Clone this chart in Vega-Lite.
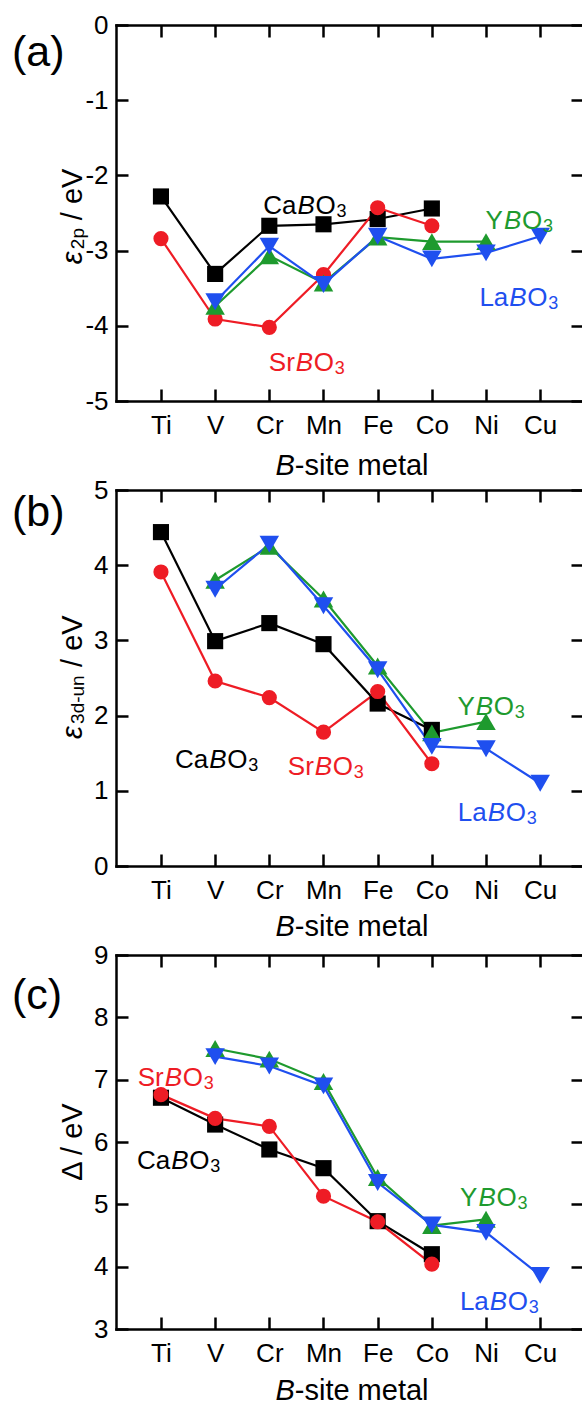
{
  "$schema": "https://vega.github.io/schema/vega-lite/v6.json",
  "padding": {"left": 11, "top": 12, "right": 0, "bottom": 0},
  "background": "white",
  "bounds": "flush",
  "spacing": 89,
  "datasets": {
    "pts": [
      {"panel":"a","series":"CaBO3","metal":"Ti","idx":1,"v":-2.28},
      {"panel":"a","series":"CaBO3","metal":"V","idx":2,"v":-3.31},
      {"panel":"a","series":"CaBO3","metal":"Cr","idx":3,"v":-2.67},
      {"panel":"a","series":"CaBO3","metal":"Mn","idx":4,"v":-2.65},
      {"panel":"a","series":"CaBO3","metal":"Fe","idx":5,"v":-2.58},
      {"panel":"a","series":"CaBO3","metal":"Co","idx":6,"v":-2.44},
      {"panel":"a","series":"SrBO3","metal":"Ti","idx":1,"v":-2.84},
      {"panel":"a","series":"SrBO3","metal":"V","idx":2,"v":-3.91},
      {"panel":"a","series":"SrBO3","metal":"Cr","idx":3,"v":-4.02},
      {"panel":"a","series":"SrBO3","metal":"Mn","idx":4,"v":-3.32},
      {"panel":"a","series":"SrBO3","metal":"Fe","idx":5,"v":-2.43},
      {"panel":"a","series":"SrBO3","metal":"Co","idx":6,"v":-2.67},
      {"panel":"a","series":"YBO3","metal":"V","idx":2,"v":-3.74},
      {"panel":"a","series":"YBO3","metal":"Cr","idx":3,"v":-3.07},
      {"panel":"a","series":"YBO3","metal":"Mn","idx":4,"v":-3.43},
      {"panel":"a","series":"YBO3","metal":"Fe","idx":5,"v":-2.82},
      {"panel":"a","series":"YBO3","metal":"Co","idx":6,"v":-2.88},
      {"panel":"a","series":"YBO3","metal":"Ni","idx":7,"v":-2.88},
      {"panel":"a","series":"LaBO3","metal":"V","idx":2,"v":-3.68},
      {"panel":"a","series":"LaBO3","metal":"Cr","idx":3,"v":-2.94},
      {"panel":"a","series":"LaBO3","metal":"Mn","idx":4,"v":-3.45},
      {"panel":"a","series":"LaBO3","metal":"Fe","idx":5,"v":-2.81},
      {"panel":"a","series":"LaBO3","metal":"Co","idx":6,"v":-3.11},
      {"panel":"a","series":"LaBO3","metal":"Ni","idx":7,"v":-3.03},
      {"panel":"a","series":"LaBO3","metal":"Cu","idx":8,"v":-2.81},
      {"panel":"b","series":"CaBO3","metal":"Ti","idx":1,"v":4.44},
      {"panel":"b","series":"CaBO3","metal":"V","idx":2,"v":2.99},
      {"panel":"b","series":"CaBO3","metal":"Cr","idx":3,"v":3.23},
      {"panel":"b","series":"CaBO3","metal":"Mn","idx":4,"v":2.95},
      {"panel":"b","series":"CaBO3","metal":"Fe","idx":5,"v":2.16},
      {"panel":"b","series":"CaBO3","metal":"Co","idx":6,"v":1.81},
      {"panel":"b","series":"SrBO3","metal":"Ti","idx":1,"v":3.91},
      {"panel":"b","series":"SrBO3","metal":"V","idx":2,"v":2.46},
      {"panel":"b","series":"SrBO3","metal":"Cr","idx":3,"v":2.24},
      {"panel":"b","series":"SrBO3","metal":"Mn","idx":4,"v":1.78},
      {"panel":"b","series":"SrBO3","metal":"Fe","idx":5,"v":2.32},
      {"panel":"b","series":"SrBO3","metal":"Co","idx":6,"v":1.36},
      {"panel":"b","series":"YBO3","metal":"V","idx":2,"v":3.80},
      {"panel":"b","series":"YBO3","metal":"Cr","idx":3,"v":4.25},
      {"panel":"b","series":"YBO3","metal":"Mn","idx":4,"v":3.55},
      {"panel":"b","series":"YBO3","metal":"Fe","idx":5,"v":2.66},
      {"panel":"b","series":"YBO3","metal":"Co","idx":6,"v":1.77},
      {"panel":"b","series":"YBO3","metal":"Ni","idx":7,"v":1.92},
      {"panel":"b","series":"LaBO3","metal":"V","idx":2,"v":3.68},
      {"panel":"b","series":"LaBO3","metal":"Cr","idx":3,"v":4.28},
      {"panel":"b","series":"LaBO3","metal":"Mn","idx":4,"v":3.46},
      {"panel":"b","series":"LaBO3","metal":"Fe","idx":5,"v":2.61},
      {"panel":"b","series":"LaBO3","metal":"Co","idx":6,"v":1.59},
      {"panel":"b","series":"LaBO3","metal":"Ni","idx":7,"v":1.56},
      {"panel":"b","series":"LaBO3","metal":"Cu","idx":8,"v":1.10},
      {"panel":"c","series":"CaBO3","metal":"Ti","idx":1,"v":6.71},
      {"panel":"c","series":"CaBO3","metal":"V","idx":2,"v":6.28},
      {"panel":"c","series":"CaBO3","metal":"Cr","idx":3,"v":5.88},
      {"panel":"c","series":"CaBO3","metal":"Mn","idx":4,"v":5.58},
      {"panel":"c","series":"CaBO3","metal":"Fe","idx":5,"v":4.73},
      {"panel":"c","series":"CaBO3","metal":"Co","idx":6,"v":4.20},
      {"panel":"c","series":"SrBO3","metal":"Ti","idx":1,"v":6.76},
      {"panel":"c","series":"SrBO3","metal":"V","idx":2,"v":6.38},
      {"panel":"c","series":"SrBO3","metal":"Cr","idx":3,"v":6.25},
      {"panel":"c","series":"SrBO3","metal":"Mn","idx":4,"v":5.13},
      {"panel":"c","series":"SrBO3","metal":"Fe","idx":5,"v":4.72},
      {"panel":"c","series":"SrBO3","metal":"Co","idx":6,"v":4.04},
      {"panel":"c","series":"YBO3","metal":"V","idx":2,"v":7.50},
      {"panel":"c","series":"YBO3","metal":"Cr","idx":3,"v":7.33},
      {"panel":"c","series":"YBO3","metal":"Mn","idx":4,"v":6.97},
      {"panel":"c","series":"YBO3","metal":"Fe","idx":5,"v":5.43},
      {"panel":"c","series":"YBO3","metal":"Co","idx":6,"v":4.66},
      {"panel":"c","series":"YBO3","metal":"Ni","idx":7,"v":4.76},
      {"panel":"c","series":"LaBO3","metal":"V","idx":2,"v":7.37},
      {"panel":"c","series":"LaBO3","metal":"Cr","idx":3,"v":7.22},
      {"panel":"c","series":"LaBO3","metal":"Mn","idx":4,"v":6.90},
      {"panel":"c","series":"LaBO3","metal":"Fe","idx":5,"v":5.35},
      {"panel":"c","series":"LaBO3","metal":"Co","idx":6,"v":4.67},
      {"panel":"c","series":"LaBO3","metal":"Ni","idx":7,"v":4.55},
      {"panel":"c","series":"LaBO3","metal":"Cu","idx":8,"v":3.86}
    ],
    "labs": [
      {"panel":"a","series":"CaBO3","pre":"Ca","x":3.52,"y":-2.41},
      {"panel":"a","series":"SrBO3","pre":"Sr","x":3.49,"y":-4.49},
      {"panel":"a","series":"YBO3","pre":"Y","x":7.33,"y":-2.61},
      {"panel":"a","series":"LaBO3","pre":"La","x":7.43,"y":-3.63},
      {"panel":"b","series":"CaBO3","pre":"Ca","x":1.89,"y":1.41},
      {"panel":"b","series":"SrBO3","pre":"Sr","x":3.84,"y":1.32},
      {"panel":"b","series":"YBO3","pre":"Y","x":6.81,"y":2.12},
      {"panel":"b","series":"LaBO3","pre":"La","x":7.03,"y":0.70},
      {"panel":"c","series":"SrBO3","pre":"Sr","x":1.07,"y":7.03},
      {"panel":"c","series":"CaBO3","pre":"Ca","x":1.19,"y":5.69},
      {"panel":"c","series":"YBO3","pre":"Y","x":6.86,"y":5.10},
      {"panel":"c","series":"LaBO3","pre":"La","x":7.07,"y":3.44}
    ]
  },
  "vconcat": [
    {
      "width": 467, "height": 376,
      "resolve": {"axis": {"x": "independent", "y": "independent"}},
      "layer": [
        {"data": {"name": "pts"}, "transform": [{"filter": "datum.panel === 'a'"}],
         "mark": {"type": "line", "strokeWidth": 2.2},
         "encoding": {
           "x": {"field": "idx", "type": "quantitative", "scale": {"domain": [0.17, 8.79], "nice": false, "zero": false},
                 "axis": {"orient": "bottom", "values": [1,2,3,4,5,6,7,8], "labelExpr": "['','Ti','V','Cr','Mn','Fe','Co','Ni','Cu'][datum.value]", "title": null, "tickSize": -12, "labelPadding": 23}},
           "y": {"field": "v", "type": "quantitative", "scale": {"domain": [-5, 0], "nice": false, "zero": false},
                 "axis": {"orient": "left", "values": [-5,-4,-3,-2,-1,0], "labelExpr": "'' + datum.value", "title": null, "tickSize": -12, "labelPadding": 20}},
           "color": {"field": "series", "type": "nominal", "scale": {"domain": ["CaBO3","SrBO3","YBO3","LaBO3"], "range": ["#000000","#ee1c25","#1e9a2e","#1f4fef"]}, "legend": null}
         }},
        {"data": {"name": "pts"}, "transform": [{"filter": "datum.panel === 'a'"}],
         "mark": {"type": "point", "filled": true, "opacity": 1},
         "encoding": {
           "x": {"field": "idx", "type": "quantitative", "scale": {"domain": [0.17, 8.79], "nice": false, "zero": false},
                 "axis": {"orient": "top", "values": [1,2,3,4,5,6,7,8], "labels": false, "title": null, "tickSize": -12}},
           "y": {"field": "v", "type": "quantitative", "scale": {"domain": [-5, 0], "nice": false, "zero": false},
                 "axis": {"orient": "right", "values": [-5,-4,-3,-2,-1,0], "labels": false, "domain": false, "title": null, "tickSize": -12}},
           "color": {"field": "series", "type": "nominal", "scale": {"domain": ["CaBO3","SrBO3","YBO3","LaBO3"], "range": ["#000000","#ee1c25","#1e9a2e","#1f4fef"]}, "legend": null},
           "shape": {"field": "series", "type": "nominal", "scale": {"domain": ["CaBO3","SrBO3","YBO3","LaBO3"], "range": ["square","circle","triangle-up","triangle-down"]}, "legend": null},
           "size": {"field": "series", "type": "nominal", "scale": {"type": "ordinal", "domain": ["CaBO3","SrBO3","YBO3","LaBO3"], "range": [260,230,380,380]}, "legend": null}
         }},
        {"data": {"name": "labs"}, "transform": [{"filter": "datum.panel === 'a'"}],
         "mark": {"type": "text", "align": "right", "dx": -1, "fontSize": 26},
         "encoding": {
           "x": {"field": "x", "type": "quantitative", "scale": {"domain": [0.17, 8.79], "nice": false, "zero": false}, "axis": null},
           "y": {"field": "y", "type": "quantitative", "scale": {"domain": [-5, 0], "nice": false, "zero": false}, "axis": null},
           "text": {"field": "pre"},
           "color": {"field": "series", "type": "nominal", "scale": {"domain": ["CaBO3","SrBO3","YBO3","LaBO3"], "range": ["#000000","#ee1c25","#1e9a2e","#1f4fef"]}, "legend": null}
         }},
        {"data": {"name": "labs"}, "transform": [{"filter": "datum.panel === 'a'"}],
         "mark": {"type": "text", "align": "left", "text": "B", "fontStyle": "italic", "fontSize": 26},
         "encoding": {
           "x": {"field": "x", "type": "quantitative", "scale": {"domain": [0.17, 8.79], "nice": false, "zero": false}, "axis": null},
           "y": {"field": "y", "type": "quantitative", "scale": {"domain": [-5, 0], "nice": false, "zero": false}, "axis": null},
           "color": {"field": "series", "type": "nominal", "scale": {"domain": ["CaBO3","SrBO3","YBO3","LaBO3"], "range": ["#000000","#ee1c25","#1e9a2e","#1f4fef"]}, "legend": null}
         }},
        {"data": {"name": "labs"}, "transform": [{"filter": "datum.panel === 'a'"}],
         "mark": {"type": "text", "align": "left", "text": "O", "dx": 18, "fontSize": 26},
         "encoding": {
           "x": {"field": "x", "type": "quantitative", "scale": {"domain": [0.17, 8.79], "nice": false, "zero": false}, "axis": null},
           "y": {"field": "y", "type": "quantitative", "scale": {"domain": [-5, 0], "nice": false, "zero": false}, "axis": null},
           "color": {"field": "series", "type": "nominal", "scale": {"domain": ["CaBO3","SrBO3","YBO3","LaBO3"], "range": ["#000000","#ee1c25","#1e9a2e","#1f4fef"]}, "legend": null}
         }},
        {"data": {"name": "labs"}, "transform": [{"filter": "datum.panel === 'a'"}],
         "mark": {"type": "text", "align": "left", "text": "3", "dx": 39, "dy": 6, "fontSize": 18},
         "encoding": {
           "x": {"field": "x", "type": "quantitative", "scale": {"domain": [0.17, 8.79], "nice": false, "zero": false}, "axis": null},
           "y": {"field": "y", "type": "quantitative", "scale": {"domain": [-5, 0], "nice": false, "zero": false}, "axis": null},
           "color": {"field": "series", "type": "nominal", "scale": {"domain": ["CaBO3","SrBO3","YBO3","LaBO3"], "range": ["#000000","#ee1c25","#1e9a2e","#1f4fef"]}, "legend": null}
         }},
        {"data": {"values": [{}]},
         "mark": {"type": "text", "text": "(a)", "align": "left", "fontSize": 43, "color": "#000"},
         "encoding": {
           "x": {"datum": -1.75, "type": "quantitative", "scale": {"domain": [0.17, 8.79], "nice": false, "zero": false}, "axis": null},
           "y": {"datum": -0.37, "type": "quantitative", "scale": {"domain": [-5, 0], "nice": false, "zero": false}, "axis": null}
         }},
        {"data": {"values": [{}]},
         "mark": {"type": "text", "text": "ε", "align": "left", "angle": 270, "fontStyle": "italic", "fontSize": 29, "color": "#000"},
         "encoding": {
           "x": {"datum": -0.63, "type": "quantitative", "scale": {"domain": [0.17, 8.79], "nice": false, "zero": false}, "axis": null},
           "y": {"datum": -3.18, "type": "quantitative", "scale": {"domain": [-5, 0], "nice": false, "zero": false}, "axis": null}
         }},
        {"data": {"values": [{}]},
         "mark": {"type": "text", "text": "2p", "align": "left", "angle": 270, "dx": 15, "dy": 5, "fontSize": 19, "color": "#000"},
         "encoding": {
           "x": {"datum": -0.63, "type": "quantitative", "scale": {"domain": [0.17, 8.79], "nice": false, "zero": false}, "axis": null},
           "y": {"datum": -3.18, "type": "quantitative", "scale": {"domain": [-5, 0], "nice": false, "zero": false}, "axis": null}
         }},
        {"data": {"values": [{}]},
         "mark": {"type": "text", "text": "/ eV", "align": "left", "angle": 270, "dx": 44, "fontSize": 29, "color": "#000"},
         "encoding": {
           "x": {"datum": -0.63, "type": "quantitative", "scale": {"domain": [0.17, 8.79], "nice": false, "zero": false}, "axis": null},
           "y": {"datum": -3.18, "type": "quantitative", "scale": {"domain": [-5, 0], "nice": false, "zero": false}, "axis": null}
         }},
        {"data": {"values": [{}]},
         "mark": {"type": "text", "text": "B", "align": "right", "fontStyle": "italic", "fontSize": 29, "color": "#000"},
         "encoding": {
           "x": {"datum": 3.47, "type": "quantitative", "scale": {"domain": [0.17, 8.79], "nice": false, "zero": false}, "axis": null},
           "y": {"datum": -5.86, "type": "quantitative", "scale": {"domain": [-5, 0], "nice": false, "zero": false}, "axis": null}
         }},
        {"data": {"values": [{}]},
         "mark": {"type": "text", "text": "-site metal", "align": "left", "fontSize": 29, "color": "#000"},
         "encoding": {
           "x": {"datum": 3.47, "type": "quantitative", "scale": {"domain": [0.17, 8.79], "nice": false, "zero": false}, "axis": null},
           "y": {"datum": -5.86, "type": "quantitative", "scale": {"domain": [-5, 0], "nice": false, "zero": false}, "axis": null}
         }}
      ]
    },
    {
      "width": 467, "height": 376,
      "resolve": {"axis": {"x": "independent", "y": "independent"}},
      "layer": [
        {"data": {"name": "pts"}, "transform": [{"filter": "datum.panel === 'b'"}],
         "mark": {"type": "line", "strokeWidth": 2.2},
         "encoding": {
           "x": {"field": "idx", "type": "quantitative", "scale": {"domain": [0.17, 8.79], "nice": false, "zero": false},
                 "axis": {"orient": "bottom", "values": [1,2,3,4,5,6,7,8], "labelExpr": "['','Ti','V','Cr','Mn','Fe','Co','Ni','Cu'][datum.value]", "title": null, "tickSize": -12, "labelPadding": 23}},
           "y": {"field": "v", "type": "quantitative", "scale": {"domain": [0, 5], "nice": false, "zero": false},
                 "axis": {"orient": "left", "values": [0,1,2,3,4,5], "labelExpr": "'' + datum.value", "title": null, "tickSize": -12, "labelPadding": 20}},
           "color": {"field": "series", "type": "nominal", "scale": {"domain": ["CaBO3","SrBO3","YBO3","LaBO3"], "range": ["#000000","#ee1c25","#1e9a2e","#1f4fef"]}, "legend": null}
         }},
        {"data": {"name": "pts"}, "transform": [{"filter": "datum.panel === 'b'"}],
         "mark": {"type": "point", "filled": true, "opacity": 1},
         "encoding": {
           "x": {"field": "idx", "type": "quantitative", "scale": {"domain": [0.17, 8.79], "nice": false, "zero": false},
                 "axis": {"orient": "top", "values": [1,2,3,4,5,6,7,8], "labels": false, "title": null, "tickSize": -12}},
           "y": {"field": "v", "type": "quantitative", "scale": {"domain": [0, 5], "nice": false, "zero": false},
                 "axis": {"orient": "right", "values": [0,1,2,3,4,5], "labels": false, "domain": false, "title": null, "tickSize": -12}},
           "color": {"field": "series", "type": "nominal", "scale": {"domain": ["CaBO3","SrBO3","YBO3","LaBO3"], "range": ["#000000","#ee1c25","#1e9a2e","#1f4fef"]}, "legend": null},
           "shape": {"field": "series", "type": "nominal", "scale": {"domain": ["CaBO3","SrBO3","YBO3","LaBO3"], "range": ["square","circle","triangle-up","triangle-down"]}, "legend": null},
           "size": {"field": "series", "type": "nominal", "scale": {"type": "ordinal", "domain": ["CaBO3","SrBO3","YBO3","LaBO3"], "range": [260,230,380,380]}, "legend": null}
         }},
        {"data": {"name": "labs"}, "transform": [{"filter": "datum.panel === 'b'"}],
         "mark": {"type": "text", "align": "right", "dx": -1, "fontSize": 26},
         "encoding": {
           "x": {"field": "x", "type": "quantitative", "scale": {"domain": [0.17, 8.79], "nice": false, "zero": false}, "axis": null},
           "y": {"field": "y", "type": "quantitative", "scale": {"domain": [0, 5], "nice": false, "zero": false}, "axis": null},
           "text": {"field": "pre"},
           "color": {"field": "series", "type": "nominal", "scale": {"domain": ["CaBO3","SrBO3","YBO3","LaBO3"], "range": ["#000000","#ee1c25","#1e9a2e","#1f4fef"]}, "legend": null}
         }},
        {"data": {"name": "labs"}, "transform": [{"filter": "datum.panel === 'b'"}],
         "mark": {"type": "text", "align": "left", "text": "B", "fontStyle": "italic", "fontSize": 26},
         "encoding": {
           "x": {"field": "x", "type": "quantitative", "scale": {"domain": [0.17, 8.79], "nice": false, "zero": false}, "axis": null},
           "y": {"field": "y", "type": "quantitative", "scale": {"domain": [0, 5], "nice": false, "zero": false}, "axis": null},
           "color": {"field": "series", "type": "nominal", "scale": {"domain": ["CaBO3","SrBO3","YBO3","LaBO3"], "range": ["#000000","#ee1c25","#1e9a2e","#1f4fef"]}, "legend": null}
         }},
        {"data": {"name": "labs"}, "transform": [{"filter": "datum.panel === 'b'"}],
         "mark": {"type": "text", "align": "left", "text": "O", "dx": 18, "fontSize": 26},
         "encoding": {
           "x": {"field": "x", "type": "quantitative", "scale": {"domain": [0.17, 8.79], "nice": false, "zero": false}, "axis": null},
           "y": {"field": "y", "type": "quantitative", "scale": {"domain": [0, 5], "nice": false, "zero": false}, "axis": null},
           "color": {"field": "series", "type": "nominal", "scale": {"domain": ["CaBO3","SrBO3","YBO3","LaBO3"], "range": ["#000000","#ee1c25","#1e9a2e","#1f4fef"]}, "legend": null}
         }},
        {"data": {"name": "labs"}, "transform": [{"filter": "datum.panel === 'b'"}],
         "mark": {"type": "text", "align": "left", "text": "3", "dx": 39, "dy": 6, "fontSize": 18},
         "encoding": {
           "x": {"field": "x", "type": "quantitative", "scale": {"domain": [0.17, 8.79], "nice": false, "zero": false}, "axis": null},
           "y": {"field": "y", "type": "quantitative", "scale": {"domain": [0, 5], "nice": false, "zero": false}, "axis": null},
           "color": {"field": "series", "type": "nominal", "scale": {"domain": ["CaBO3","SrBO3","YBO3","LaBO3"], "range": ["#000000","#ee1c25","#1e9a2e","#1f4fef"]}, "legend": null}
         }},
        {"data": {"values": [{}]},
         "mark": {"type": "text", "text": "(b)", "align": "left", "fontSize": 43, "color": "#000"},
         "encoding": {
           "x": {"datum": -1.75, "type": "quantitative", "scale": {"domain": [0.17, 8.79], "nice": false, "zero": false}, "axis": null},
           "y": {"datum": 4.69, "type": "quantitative", "scale": {"domain": [0, 5], "nice": false, "zero": false}, "axis": null}
         }},
        {"data": {"values": [{}]},
         "mark": {"type": "text", "text": "ε", "align": "left", "angle": 270, "fontStyle": "italic", "fontSize": 29, "color": "#000"},
         "encoding": {
           "x": {"datum": -0.63, "type": "quantitative", "scale": {"domain": [0.17, 8.79], "nice": false, "zero": false}, "axis": null},
           "y": {"datum": 1.69, "type": "quantitative", "scale": {"domain": [0, 5], "nice": false, "zero": false}, "axis": null}
         }},
        {"data": {"values": [{}]},
         "mark": {"type": "text", "text": "3d-un", "align": "left", "angle": 270, "dx": 15, "dy": 5, "fontSize": 19, "color": "#000"},
         "encoding": {
           "x": {"datum": -0.63, "type": "quantitative", "scale": {"domain": [0.17, 8.79], "nice": false, "zero": false}, "axis": null},
           "y": {"datum": 1.69, "type": "quantitative", "scale": {"domain": [0, 5], "nice": false, "zero": false}, "axis": null}
         }},
        {"data": {"values": [{}]},
         "mark": {"type": "text", "text": "/ eV", "align": "left", "angle": 270, "dx": 72, "fontSize": 29, "color": "#000"},
         "encoding": {
           "x": {"datum": -0.63, "type": "quantitative", "scale": {"domain": [0.17, 8.79], "nice": false, "zero": false}, "axis": null},
           "y": {"datum": 1.69, "type": "quantitative", "scale": {"domain": [0, 5], "nice": false, "zero": false}, "axis": null}
         }},
        {"data": {"values": [{}]},
         "mark": {"type": "text", "text": "B", "align": "right", "fontStyle": "italic", "fontSize": 29, "color": "#000"},
         "encoding": {
           "x": {"datum": 3.47, "type": "quantitative", "scale": {"domain": [0.17, 8.79], "nice": false, "zero": false}, "axis": null},
           "y": {"datum": -0.81, "type": "quantitative", "scale": {"domain": [0, 5], "nice": false, "zero": false}, "axis": null}
         }},
        {"data": {"values": [{}]},
         "mark": {"type": "text", "text": "-site metal", "align": "left", "fontSize": 29, "color": "#000"},
         "encoding": {
           "x": {"datum": 3.47, "type": "quantitative", "scale": {"domain": [0.17, 8.79], "nice": false, "zero": false}, "axis": null},
           "y": {"datum": -0.81, "type": "quantitative", "scale": {"domain": [0, 5], "nice": false, "zero": false}, "axis": null}
         }}
      ]
    },
    {
      "width": 467, "height": 374,
      "resolve": {"axis": {"x": "independent", "y": "independent"}},
      "layer": [
        {"data": {"name": "pts"}, "transform": [{"filter": "datum.panel === 'c'"}],
         "mark": {"type": "line", "strokeWidth": 2.2},
         "encoding": {
           "x": {"field": "idx", "type": "quantitative", "scale": {"domain": [0.17, 8.79], "nice": false, "zero": false},
                 "axis": {"orient": "bottom", "values": [1,2,3,4,5,6,7,8], "labelExpr": "['','Ti','V','Cr','Mn','Fe','Co','Ni','Cu'][datum.value]", "title": null, "tickSize": -12, "labelPadding": 23}},
           "y": {"field": "v", "type": "quantitative", "scale": {"domain": [3, 9], "nice": false, "zero": false},
                 "axis": {"orient": "left", "values": [3,4,5,6,7,8,9], "labelExpr": "'' + datum.value", "title": null, "tickSize": -12, "labelPadding": 20}},
           "color": {"field": "series", "type": "nominal", "scale": {"domain": ["CaBO3","SrBO3","YBO3","LaBO3"], "range": ["#000000","#ee1c25","#1e9a2e","#1f4fef"]}, "legend": null}
         }},
        {"data": {"name": "pts"}, "transform": [{"filter": "datum.panel === 'c'"}],
         "mark": {"type": "point", "filled": true, "opacity": 1},
         "encoding": {
           "x": {"field": "idx", "type": "quantitative", "scale": {"domain": [0.17, 8.79], "nice": false, "zero": false},
                 "axis": {"orient": "top", "values": [1,2,3,4,5,6,7,8], "labels": false, "title": null, "tickSize": -12}},
           "y": {"field": "v", "type": "quantitative", "scale": {"domain": [3, 9], "nice": false, "zero": false},
                 "axis": {"orient": "right", "values": [3,4,5,6,7,8,9], "labels": false, "domain": false, "title": null, "tickSize": -12}},
           "color": {"field": "series", "type": "nominal", "scale": {"domain": ["CaBO3","SrBO3","YBO3","LaBO3"], "range": ["#000000","#ee1c25","#1e9a2e","#1f4fef"]}, "legend": null},
           "shape": {"field": "series", "type": "nominal", "scale": {"domain": ["CaBO3","SrBO3","YBO3","LaBO3"], "range": ["square","circle","triangle-up","triangle-down"]}, "legend": null},
           "size": {"field": "series", "type": "nominal", "scale": {"type": "ordinal", "domain": ["CaBO3","SrBO3","YBO3","LaBO3"], "range": [260,230,380,380]}, "legend": null}
         }},
        {"data": {"name": "labs"}, "transform": [{"filter": "datum.panel === 'c'"}],
         "mark": {"type": "text", "align": "right", "dx": -1, "fontSize": 26},
         "encoding": {
           "x": {"field": "x", "type": "quantitative", "scale": {"domain": [0.17, 8.79], "nice": false, "zero": false}, "axis": null},
           "y": {"field": "y", "type": "quantitative", "scale": {"domain": [3, 9], "nice": false, "zero": false}, "axis": null},
           "text": {"field": "pre"},
           "color": {"field": "series", "type": "nominal", "scale": {"domain": ["CaBO3","SrBO3","YBO3","LaBO3"], "range": ["#000000","#ee1c25","#1e9a2e","#1f4fef"]}, "legend": null}
         }},
        {"data": {"name": "labs"}, "transform": [{"filter": "datum.panel === 'c'"}],
         "mark": {"type": "text", "align": "left", "text": "B", "fontStyle": "italic", "fontSize": 26},
         "encoding": {
           "x": {"field": "x", "type": "quantitative", "scale": {"domain": [0.17, 8.79], "nice": false, "zero": false}, "axis": null},
           "y": {"field": "y", "type": "quantitative", "scale": {"domain": [3, 9], "nice": false, "zero": false}, "axis": null},
           "color": {"field": "series", "type": "nominal", "scale": {"domain": ["CaBO3","SrBO3","YBO3","LaBO3"], "range": ["#000000","#ee1c25","#1e9a2e","#1f4fef"]}, "legend": null}
         }},
        {"data": {"name": "labs"}, "transform": [{"filter": "datum.panel === 'c'"}],
         "mark": {"type": "text", "align": "left", "text": "O", "dx": 18, "fontSize": 26},
         "encoding": {
           "x": {"field": "x", "type": "quantitative", "scale": {"domain": [0.17, 8.79], "nice": false, "zero": false}, "axis": null},
           "y": {"field": "y", "type": "quantitative", "scale": {"domain": [3, 9], "nice": false, "zero": false}, "axis": null},
           "color": {"field": "series", "type": "nominal", "scale": {"domain": ["CaBO3","SrBO3","YBO3","LaBO3"], "range": ["#000000","#ee1c25","#1e9a2e","#1f4fef"]}, "legend": null}
         }},
        {"data": {"name": "labs"}, "transform": [{"filter": "datum.panel === 'c'"}],
         "mark": {"type": "text", "align": "left", "text": "3", "dx": 39, "dy": 6, "fontSize": 18},
         "encoding": {
           "x": {"field": "x", "type": "quantitative", "scale": {"domain": [0.17, 8.79], "nice": false, "zero": false}, "axis": null},
           "y": {"field": "y", "type": "quantitative", "scale": {"domain": [3, 9], "nice": false, "zero": false}, "axis": null},
           "color": {"field": "series", "type": "nominal", "scale": {"domain": ["CaBO3","SrBO3","YBO3","LaBO3"], "range": ["#000000","#ee1c25","#1e9a2e","#1f4fef"]}, "legend": null}
         }},
        {"data": {"values": [{}]},
         "mark": {"type": "text", "text": "(c)", "align": "left", "fontSize": 43, "color": "#000"},
         "encoding": {
           "x": {"datum": -1.75, "type": "quantitative", "scale": {"domain": [0.17, 8.79], "nice": false, "zero": false}, "axis": null},
           "y": {"datum": 8.34, "type": "quantitative", "scale": {"domain": [3, 9], "nice": false, "zero": false}, "axis": null}
         }},
        {"data": {"values": [{}]},
         "mark": {"type": "text", "text": "Δ / eV", "align": "center", "angle": 270, "fontSize": 29, "color": "#000"},
         "encoding": {
           "x": {"datum": -0.63, "type": "quantitative", "scale": {"domain": [0.17, 8.79], "nice": false, "zero": false}, "axis": null},
           "y": {"datum": 6.0, "type": "quantitative", "scale": {"domain": [3, 9], "nice": false, "zero": false}, "axis": null}
         }},
        {"data": {"values": [{}]},
         "mark": {"type": "text", "text": "B", "align": "right", "fontStyle": "italic", "fontSize": 29, "color": "#000"},
         "encoding": {
           "x": {"datum": 3.47, "type": "quantitative", "scale": {"domain": [0.17, 8.79], "nice": false, "zero": false}, "axis": null},
           "y": {"datum": 2.0, "type": "quantitative", "scale": {"domain": [3, 9], "nice": false, "zero": false}, "axis": null}
         }},
        {"data": {"values": [{}]},
         "mark": {"type": "text", "text": "-site metal", "align": "left", "fontSize": 29, "color": "#000"},
         "encoding": {
           "x": {"datum": 3.47, "type": "quantitative", "scale": {"domain": [0.17, 8.79], "nice": false, "zero": false}, "axis": null},
           "y": {"datum": 2.0, "type": "quantitative", "scale": {"domain": [3, 9], "nice": false, "zero": false}, "axis": null}
         }}
      ]
    }
  ],
  "config": {
    "view": {"stroke": null},
    "axis": {"labelFont": "Liberation Sans", "labelFontSize": 26, "labelColor": "#000000", "tickColor": "#000000", "domainColor": "#000000", "tickWidth": 2.5, "domainWidth": 2.5, "domainCap": "square", "grid": false, "labelFlush": false, "labelOverlap": false},
    "text": {"font": "Liberation Sans", "fontSize": 25}
  }
}
